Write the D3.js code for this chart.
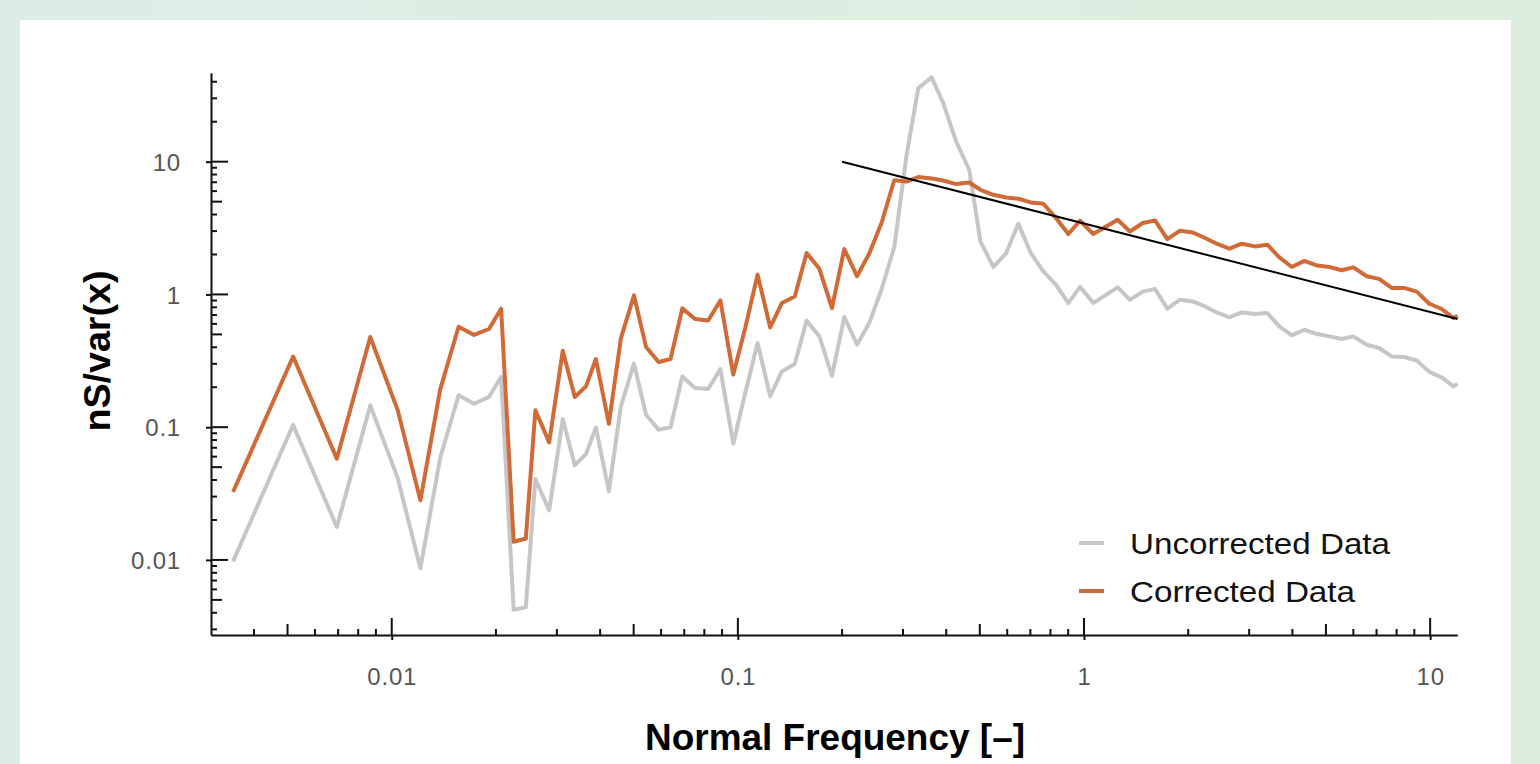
<!DOCTYPE html>
<html>
<head>
<meta charset="utf-8">
<script src="https://cdn.jsdelivr.net/npm/d3@7"></script>
<style>
  body { margin: 0; overflow: hidden; }
  text { font-family: "Liberation Sans", Arial, sans-serif; }
</style>
</head>
<body>
<div id="chart"></div>
<script>
// data
const freq = [0.00348, 0.00519, 0.00694, 0.00867, 0.0104, 0.0121, 0.0138, 0.0156, 0.0173, 0.0191,
    0.0207, 0.0225, 0.0244, 0.0260, 0.0285, 0.0312, 0.0338, 0.0364, 0.0389, 0.0424,
    0.0459, 0.0501, 0.0543, 0.0590, 0.0639, 0.0691, 0.0752, 0.0821, 0.0890, 0.0970,
    0.105, 0.114, 0.124, 0.134, 0.146, 0.158, 0.172, 0.187, 0.203, 0.221,
    0.240, 0.260, 0.283, 0.307, 0.332, 0.363, 0.392, 0.427, 0.466, 0.502,
    0.547, 0.596, 0.646, 0.702, 0.763, 0.830, 0.901, 0.974, 1.064, 1.152,
    1.251, 1.358, 1.478, 1.604, 1.741, 1.894, 2.061, 2.237, 2.417, 2.630,
    2.855, 3.120, 3.385, 3.667, 3.983, 4.331, 4.722, 5.115, 5.554, 6.000,
    6.559, 7.116, 7.745, 8.405, 9.149, 9.947, 10.80, 11.67, 12.0]

const uncorrected = [0.00976, 0.104, 0.0177, 0.146, 0.0415, 0.00865, 0.0586, 0.174, 0.150, 0.169,
    0.239, 0.00422, 0.00440, 0.0407, 0.0236, 0.115, 0.0516, 0.0628, 0.0991, 0.0329,
    0.143, 0.301, 0.124, 0.0958, 0.100, 0.241, 0.197, 0.194, 0.274, 0.0751,
    0.181, 0.431, 0.171, 0.263, 0.299, 0.637, 0.483, 0.244, 0.676, 0.418,
    0.615, 1.09, 2.27, 11.1, 35.8, 43.2, 27.6, 14.2, 8.69, 2.51,
    1.61, 2.05, 3.41, 2.05, 1.49, 1.18, 0.861, 1.14, 0.861, 0.983,
    1.13, 0.912, 1.05, 1.10, 0.781, 0.912, 0.886, 0.812, 0.732, 0.671,
    0.732, 0.712, 0.724, 0.574, 0.491, 0.542, 0.503, 0.483, 0.462, 0.483,
    0.418, 0.395, 0.341, 0.338, 0.318, 0.261, 0.237, 0.203, 0.213]

const corrected = [0.0325, 0.341, 0.0579, 0.478, 0.135, 0.0281, 0.192, 0.571, 0.495, 0.549,
    0.781, 0.0137, 0.0145, 0.134, 0.0768, 0.377, 0.169, 0.203, 0.326, 0.106,
    0.464, 0.983, 0.402, 0.310, 0.326, 0.785, 0.653, 0.637, 0.901, 0.249,
    0.559, 1.41, 0.564, 0.861, 0.966, 2.05, 1.56, 0.790, 2.20, 1.37,
    2.05, 3.45, 7.24, 7.09, 7.66, 7.47, 7.22, 6.78, 6.97, 6.14,
    5.63, 5.38, 5.26, 4.93, 4.82, 3.76, 2.85, 3.59, 2.85, 3.22,
    3.65, 2.98, 3.45, 3.61, 2.61, 3.02, 2.93, 2.66, 2.41, 2.21,
    2.41, 2.30, 2.37, 1.90, 1.61, 1.79, 1.65, 1.61, 1.52, 1.60,
    1.37, 1.31, 1.12, 1.12, 1.05, 0.851, 0.777, 0.664, 0.691]

// straight fitted line (two end points)
const fitFreq = [0.2, 12]
const fitValue = [10, 0.653]

const xTickValues = [0.01, 0.1, 1, 10]
const xTickLabels = ["0.01", "0.1", "1", "10"]
const yTickValues = [0.01, 0.1, 1, 10]
const yTickLabels = ["0.01", "0.1", "1", "10"]
const seriesNames = ["Uncorrected Data", "Corrected Data"]
const seriesColors = ["#c6c6c6", "#d06a36"]

// svg + margins
const svgWidth = 1540
const svgHeight = 764
const margin = { top: 72.7, right: 82.7, bottom: 129, left: 211 }
const width = svgWidth - margin.left - margin.right
const height = svgHeight - margin.top - margin.bottom

const svg = d3.select("#chart").append("svg")
    .attr("width", svgWidth)
    .attr("height", svgHeight)

// background + white card
const grad = svg.append("defs").append("linearGradient")
    .attr("id", "bg").attr("x1", "0%").attr("x2", "100%").attr("y1", "0%").attr("y2", "0%")
grad.append("stop").attr("offset", "0%").attr("stop-color", "#dbede6")
grad.append("stop").attr("offset", "100%").attr("stop-color", "#ddeedf")
svg.append("rect").attr("width", svgWidth).attr("height", svgHeight).attr("fill", "url(#bg)")
svg.append("rect").attr("x", 20).attr("y", 20).attr("width", 1491).attr("height", svgHeight)
    .attr("fill", "#ffffff")

const chartGroup = svg.append("g")
    .attr("transform", `translate(${margin.left}, ${margin.top})`)

// scales
const xScale = d3.scaleLog().domain([0.003005, 11.98]).range([0, width])
const yScale = d3.scaleLog().domain([0.00272, 46.8]).range([height, 0])

function tickKind(v) {
    const lg = Math.log10(v)
    if (Math.abs(lg - Math.round(lg)) < 1e-6) return "major"
    const lead = Math.round(v / Math.pow(10, Math.floor(lg + 1e-9)))
    return lead === 5 ? "mid" : "minor"
}

// y axis
const leftAxis = d3.axisLeft(yScale)
    .tickValues(yTickValues)
    .tickFormat((d, i) => yTickLabels[i])
    .tickSize(5)
    .tickSizeOuter(0)
    .tickPadding(25)
const yAxis = chartGroup.append("g").call(leftAxis)

// x axis
const bottomAxis = d3.axisBottom(xScale)
    .tickValues(xTickValues)
    .tickFormat((d, i) => xTickLabels[i])
    .tickSize(5)
    .tickSizeOuter(0)
const xAxis = chartGroup.append("g")
    .attr("transform", `translate(0, ${height})`)
    .call(bottomAxis)

;[xAxis, yAxis].forEach(ax => {
    ax.select(".domain").attr("stroke", "#111").attr("stroke-width", 2)
    ax.selectAll(".tick line").attr("stroke", "#111").attr("stroke-width", 2)
    ax.selectAll(".tick text")
        .attr("fill", "#555")
        .style("font-size", "24px")
        .style("letter-spacing", "0.8px")
        .style("font-family", "'Liberation Sans', Arial, sans-serif")
})
xAxis.selectAll(".tick text").attr("y", 50).attr("dy", 0)
yAxis.selectAll(".tick text").attr("dy", "0.36em")

// inward ticks (major long, 5s medium, rest short)
const tickLen = { major: 17, mid: 11, minor: 6 }
yAxis.selectAll("line.inner")
    .data(yScale.ticks().filter(d => yScale(d) >= -0.5 && yScale(d) <= height - 3))
    .enter().append("line")
    .attr("class", "inner")
    .attr("x1", 0).attr("x2", d => tickLen[tickKind(d)])
    .attr("y1", d => yScale(d)).attr("y2", d => yScale(d))
    .attr("stroke", "#111").attr("stroke-width", 2)
xAxis.selectAll("line.inner")
    .data(xScale.ticks().filter(d => xScale(d) >= 3 && xScale(d) <= width + 0.5))
    .enter().append("line")
    .attr("class", "inner")
    .attr("x1", d => xScale(d)).attr("x2", d => xScale(d))
    .attr("y1", 0).attr("y2", d => -tickLen[tickKind(d)])
    .attr("stroke", "#111").attr("stroke-width", 2)

// lines
const seriesValues = [uncorrected, corrected]
const line = d3.line()
    .x(d => xScale(d[0]))
    .y(d => yScale(d[1]))

seriesValues.forEach((vals, i) => {
    chartGroup.append("path")
        .datum(freq.map((f, j) => [f, vals[j]]))
        .attr("d", line)
        .attr("fill", "none")
        .attr("stroke", seriesColors[i])
        .attr("stroke-width", 4)
        .attr("stroke-linejoin", "round")
})

chartGroup.append("path")
    .datum(fitFreq.map((f, j) => [f, fitValue[j]]))
    .attr("d", line)
    .attr("fill", "none")
    .attr("stroke", "#000")
    .attr("stroke-width", 2)

// legend
const legendWidths = [260, 225]
const legend = svg.append("g").attr("transform", "translate(1079, 543)")
seriesNames.forEach((name, i) => {
    const row = legend.append("g").attr("transform", `translate(0, ${i * 48})`)
    row.append("line")
        .attr("x1", 0).attr("x2", 25)
        .attr("stroke", seriesColors[i]).attr("stroke-width", 4)
    row.append("text")
        .attr("x", 51).attr("y", 11)
        .attr("textLength", legendWidths[i])
        .attr("lengthAdjust", "spacingAndGlyphs")
        .style("font-size", "30px")
        .attr("fill", "#111")
        .text(name)
})

// axis titles
svg.append("text")
    .attr("x", 835).attr("y", 750)
    .attr("text-anchor", "middle")
    .attr("textLength", 380)
    .attr("lengthAdjust", "spacingAndGlyphs")
    .style("font-size", "36px").style("font-weight", "bold")
    .attr("fill", "#000")
    .text("Normal Frequency [–]")

svg.append("text")
    .attr("transform", "translate(110, 351) rotate(-90)")
    .attr("text-anchor", "middle")
    .attr("textLength", 161)
    .attr("lengthAdjust", "spacingAndGlyphs")
    .style("font-size", "36px").style("font-weight", "bold")
    .attr("fill", "#000")
    .text("nS/var(x)")
</script>
</body>
</html>
